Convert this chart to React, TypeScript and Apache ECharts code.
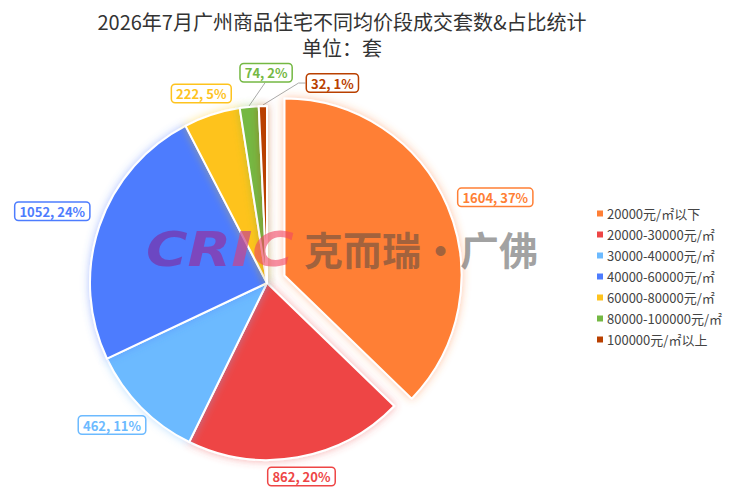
import React, { useEffect, useRef } from "react";
import * as echarts from "echarts";

const categories = [
  "20000元/㎡以下",
  "20000-30000元/㎡",
  "30000-40000元/㎡",
  "40000-60000元/㎡",
  "60000-80000元/㎡",
  "80000-100000元/㎡",
  "100000元/㎡以上",
];
const values = [1604, 862, 462, 1052, 222, 74, 32];
const colors = ["#FF7F35", "#EE4545", "#6CBAFF", "#4D7CFE", "#FEC31E", "#74B843", "#B94000"];
const shadowColors = [
  "rgba(255,127,53,0.45)",
  "rgba(238,69,69,0.45)",
  "rgba(108,186,255,0.45)",
  "rgba(77,124,254,0.45)",
  "rgba(254,195,30,0.45)",
  "rgba(116,184,67,0.45)",
  "rgba(185,64,0,0.45)",
];
const titleText = "2026年7月广州商品住宅不同均价段成交套数&占比统计";
const subTitleText = "单位：套";

const FONT = "'Noto Sans CJK SC', 'Noto Sans', sans-serif";

// layout constants (not data)
const CX = 267;
const CY = 283;
const R = 177;
const OFFSET = 19;
const GAP = 11;
const EXPLODED = 0;
const NUDGE: number[][] = [
  [5, 9],
  [0, -3],
  [-3, -8],
  [-2, 0],
  [-3, 2],
  [19, -13],
  [70, -2],
];

export default function App() {
  const ref = useRef<HTMLDivElement>(null);
  useEffect(() => {
    if (!ref.current) return;
    const chart = echarts.init(ref.current, null, { renderer: "svg" });
    const total = values.reduce((a, b) => a + b, 0);
    const mids: number[] = [];
    let acc = 0;
    values.forEach((v) => {
      mids.push(acc + v / 2);
      acc += v;
    });
    const dirOf = (i: number) => {
      const ang = ((90 - (mids[i] / total) * 360) * Math.PI) / 180;
      return [Math.cos(ang), -Math.sin(ang)];
    };
    const [edx, edy] = dirOf(EXPLODED);
    const explodedCenter = [CX + edx * OFFSET, CY + edy * OFFSET];

    const hidden = {
      itemStyle: { color: "rgba(0,0,0,0)", borderWidth: 0, shadowBlur: 0 },
      label: { show: false },
      labelLine: { show: false },
    };
    const makeItem = (i: number) => ({
      name: categories[i],
      value: values[i],
      itemStyle: { color: colors[i], shadowColor: shadowColors[i] },
      label: { color: colors[i], borderColor: colors[i] },
      labelLine: { show: i >= 5 },
    });
    const mainData = categories.map((_, i) =>
      i === EXPLODED ? { name: "_placeholder", value: values[i], ...hidden } : makeItem(i)
    );
    const explodedData = [
      makeItem(EXPLODED),
      { name: "_rest", value: total - values[EXPLODED], ...hidden },
    ];

    const layoutFor = (catIndex: number, p: any) => {
      const [dx, dy] = dirOf(catIndex);
      const cx = catIndex === EXPLODED ? explodedCenter[0] : CX;
      const cy = catIndex === EXPLODED ? explodedCenter[1] : CY;
      const w = p.labelRect.width;
      const h = p.labelRect.height;
      const ext = Math.sqrt((w / 2 * dx) ** 2 + (h / 2 * dy) ** 2);
      const d = R + GAP + ext;
      const x = cx + dx * d + NUDGE[catIndex][0];
      const y = cy + dy * d + NUDGE[catIndex][1];
      const res: any = { x, y, align: "center", verticalAlign: "middle" };
      const ex = cx + dx * (R + 1);
      const ey = cy + dy * (R + 1);
      if (catIndex === 5) {
        res.labelLinePoints = [
          [ex, ey],
          [x - 1, y + h / 2],
          [x - 1, y + h / 2],
        ];
      } else if (catIndex === 6) {
        res.labelLinePoints = [
          [ex, ey],
          [x - w / 2 - 7, y],
          [x - w / 2, y],
        ];
      }
      return res;
    };

    const commonSeries = {
      type: "pie",
      radius: R,
      startAngle: 90,
      clockwise: true,
      percentPrecision: 0,
      avoidLabelOverlap: false,
      itemStyle: { borderColor: "#fff", borderWidth: 2, shadowBlur: 8 },
      emphasis: { disabled: true },
      label: {
        show: true,
        formatter: "{c}, {d}%",
        fontSize: 13,
        fontWeight: "bold",
        fontFamily: FONT,
        backgroundColor: "#fff",
        borderWidth: 1.5,
        borderRadius: 3,
        padding: [2, 4],
        overflow: "none",
      },
      labelLine: { show: true, length: 0, length2: 0, lineStyle: { color: "#aaa", width: 1 } },
    };

    const titleStyle = {
      fontSize: 20,
      lineHeight: 22,
      fontWeight: "normal",
      color: "#333",
      fontFamily: FONT,
    };

    chart.setOption({
      animation: false,
      textStyle: { fontFamily: FONT },
      title: [
        { text: titleText, left: 342, top: 10, padding: 0, textAlign: "center", textStyle: titleStyle },
        { text: subTitleText, left: 342, top: 36, padding: 0, textAlign: "center", textStyle: titleStyle },
      ],
      legend: {
        orient: "vertical",
        left: 590,
        top: 202,
        icon: "rect",
        itemWidth: 8,
        itemHeight: 8,
        itemGap: 8,
        textStyle: { fontSize: 13, color: "#444", fontFamily: FONT, padding: [0, 0, 0, -2] },
        data: categories,
      },
      graphic: [
        {
          type: "text",
          left: 146,
          top: 225,
          scaleX: 1.18,
          z: 100,
          style: {
            text: "{a|C}{b|R}{c|I}{d|C}",
            font: "italic bold 48px 'DejaVu Sans'",
            rich: {
              a: { fill: "rgba(115,60,180,0.82)", font: "italic bold 48px 'DejaVu Sans'" },
              b: { fill: "rgba(135,60,175,0.82)", font: "italic bold 48px 'DejaVu Sans'" },
              c: { fill: "rgba(200,70,140,0.72)", font: "italic bold 48px 'DejaVu Sans'" },
              d: { fill: "rgba(240,70,100,0.6)", font: "italic bold 48px 'DejaVu Sans'" },
            },
          },
        },
        {
          type: "text",
          left: 304,
          top: 228,
          z: 100,
          style: {
            text: "克而瑞·广佛",
            font: "bold 39px 'Noto Sans CJK SC'",
            fill: "rgba(70,70,70,0.5)",
          },
        },
      ],
      series: [
        {
          ...commonSeries,
          name: "exploded",
          center: explodedCenter,
          labelLayout: (p: any) => (p.dataIndex === 0 ? layoutFor(EXPLODED, p) : {}),
          data: explodedData,
        },
        {
          ...commonSeries,
          name: "main",
          center: [CX, CY],
          labelLayout: (p: any) => (p.dataIndex === EXPLODED ? {} : layoutFor(p.dataIndex, p)),
          data: mainData,
        },
      ],
    });
    return () => chart.dispose();
  }, []);
  return (
    <div
      ref={ref}
      style={{ position: "absolute", left: 0, top: 0, width: 740, height: 497, background: "#fff" }}
    />
  );
}
